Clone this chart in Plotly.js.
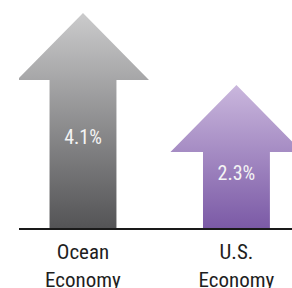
<!DOCTYPE html>
<html>
<head>
<meta charset="utf-8">
<script src="https://cdn.plot.ly/plotly-3.0.1.min.js"></script>
<style>html,body{margin:0;padding:0;background:#fff;}#chart{width:292px;height:288px;}</style>
</head>
<body>
<div id="chart"></div>
<script>
// Data
var categories = ["Ocean<br>Economy", "U.S.<br>Economy"];
var growth = [4.1, 2.3];
var labels = ["4.1%", "2.3%"];
var topColors = ["#cbcbcc", "#cab7dd"];
var bottomColors = ["#545456", "#7b5aa6"];

// Arrow style (in axis units)
var shaftHalf = 0.218, headHalf = 0.43, headHeight = 1.675;
var yBase = 0.4;
var FONT = "Roboto Condensed, Liberation Sans, sans-serif";

var traces = [];
growth.forEach(function (v, i) {
  var c = i;
  var xs = [c - shaftHalf, c - shaftHalf, c - headHalf, c, c + headHalf, c + shaftHalf, c + shaftHalf, c - shaftHalf];
  var ys = [0, v, v, v + headHeight, v, v, 0, 0];
  traces.push({
    type: "scatter", mode: "lines", x: xs, y: ys,
    fill: "toself", line: {width: 0, color: "rgba(0,0,0,0)"},
    fillgradient: {type: "vertical", start: yBase, stop: v + headHeight,
      colorscale: [[0, bottomColors[i]], [1, topColors[i]]]},
    hoverinfo: "skip", showlegend: false
  });
});
traces.push({
  type: "scatter", mode: "text",
  x: growth.map(function (v, i) { return i; }),
  y: growth.map(function (v) { return (yBase + v) / 2 + 0.37; }),
  text: labels, textposition: "middle center",
  textfont: {family: FONT, size: 20, color: "#f4f4f4"},
  hoverinfo: "skip", showlegend: false, cliponaxis: false
});

var layout = {
  width: 292, height: 288,
  margin: {l: 19, r: 0, t: 0, b: 60},
  paper_bgcolor: "#ffffff", plot_bgcolor: "#ffffff",
  showlegend: false,
  xaxis: {range: [-0.417, 1.362], showgrid: false, zeroline: false,
    tickmode: "array", tickvals: [0, 1], ticktext: categories, ticks: "",
    ticklabelstandoff: 4,
    showline: true, linecolor: "#1a1a1a", linewidth: 2,
    tickfont: {family: FONT, size: 21, color: "#1e1e1e"},
    fixedrange: true},
  yaxis: {range: [yBase, yBase + 228 / 40], showgrid: false, zeroline: false,
    showticklabels: false, showline: false, ticks: "", fixedrange: true}
};
Plotly.newPlot("chart", traces, layout, {staticPlot: true, displayModeBar: false});
</script>
</body>
</html>
